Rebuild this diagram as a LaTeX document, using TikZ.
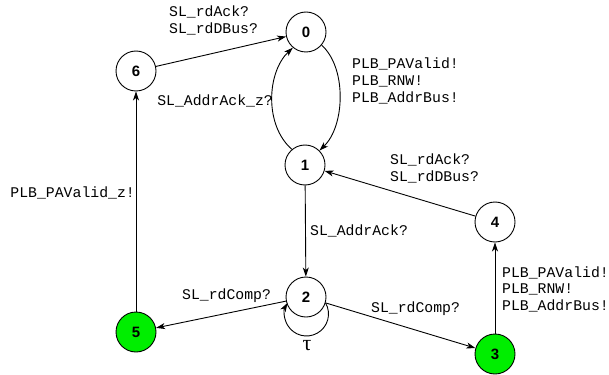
\documentclass[tikz,border=0pt]{standalone}
\usepackage{fontspec}
\newfontfamily\monolbl{Liberation Mono}
\newfontfamily\statefont{Liberation Sans}
\newfontfamily\greekfont{Liberation Serif}
\usetikzlibrary{arrows.meta}
\definecolor{stategreen}{RGB}{0,238,0}
\tikzset{
  state/.style={circle, draw, line width=0.9pt, minimum size=40pt, inner sep=0pt,
    font=\statefont\bfseries\fontsize{15}{18}\selectfont},
  greenstate/.style={state, fill=stategreen},
  trans/.style={line width=0.9pt, -{Stealth[length=9pt,width=6pt,inset=2.5pt]}},
  lbl/.style={inner sep=0pt, align=left, font=\monolbl\fontsize{14.8}{16.8}\selectfont},
}
\begin{document}
\begin{tikzpicture}[x=1pt,y=1pt]
\useasboundingbox (0,0) rectangle (609,-374);

% states
\node[state] (n0) at (306,-32) {0};
\node[state] (n1) at (305,-165) {1};
\node[state] (n2) at (306,-297) {2};
\node[greenstate] (n3) at (495,-354) {3};
\node[state] (n4) at (495,-222) {4};
\node[greenstate] (n5) at (136,-332) {5};
\node[state] (n6) at (136,-71) {6};

% transitions
\draw[trans] (n6) -- (n0);
\draw[trans] (n0.-40) .. controls (347,-68) and (345,-126) .. (n1.45);
\draw[trans] (n1.130) .. controls (264,-125) and (267,-72) .. (n0.-130);
\draw[trans] (n1) -- (n2);
\draw[trans] (n4) -- (n1);
\draw[trans] (n3) -- (n4);
\draw[trans] (n5) -- (n6);
\draw[trans] (n2) -- (n5);
\draw[trans] (n2) -- (n3);
\draw[trans] (n2.-17.5) arc[start angle=30, end angle=-210, radius=22pt];

% transition labels (base anchor sits on the last line)
\node[lbl, anchor=base west] (l60) at (169,-33.8) {SL\_rdAck?\\SL\_rdDBus?};
\node[lbl, anchor=base west] (l01) at (352,-102.1) {PLB\_PAValid!\\PLB\_RNW!\\PLB\_AddrBus!};
\node[lbl, anchor=base east] (l10) at (273,-106) {SL\_AddrAck\_z?};
\node[lbl, anchor=base west] (l41) at (390,-181.3) {SL\_rdAck?\\SL\_rdDBus?};
\node[lbl, anchor=base west] (l12) at (310,-235) {SL\_AddrAck?};
\node[lbl, anchor=base west] (l34) at (502,-310.6) {PLB\_PAValid!\\PLB\_RNW!\\PLB\_AddrBus!};
\node[lbl, anchor=base east] (l56) at (135,-197) {PLB\_PAValid\_z!};
\node[lbl, anchor=base west] (l25) at (182,-299.5) {SL\_rdComp?};
\node[lbl, anchor=base west] (l23) at (371,-312) {SL\_rdComp?};
\node[inner sep=0pt, font=\greekfont\fontsize{22}{26}\selectfont] (ltau) at (307,-346) {τ};
\end{tikzpicture}
\end{document}
